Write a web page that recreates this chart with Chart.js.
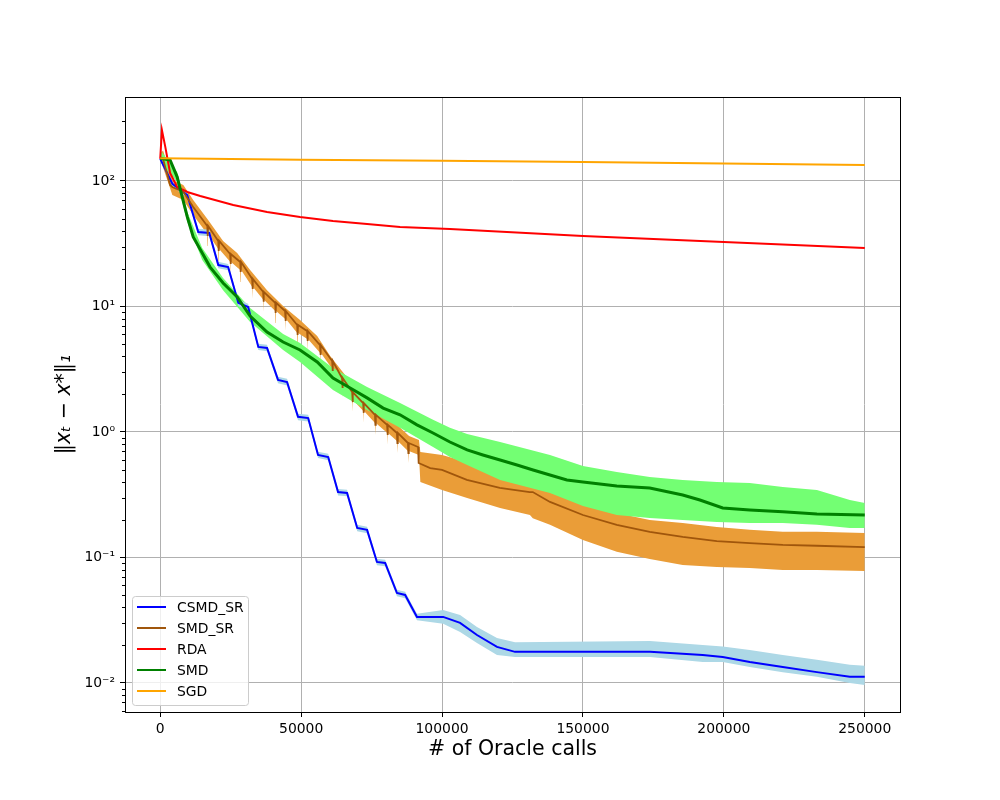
<!DOCTYPE html>
<html>
<head>
<meta charset="utf-8">
<script src="https://cdn.jsdelivr.net/npm/chart.js@4.4.1/dist/chart.umd.min.js"></script>
<style>
  body { margin: 0; background: #fff; }
  #wrap { width: 1000px; height: 800px; }
</style>
</head>
<body>
<div id="wrap"><canvas id="oracle-chart" width="1000" height="800"></canvas></div>
<script>
// Series names and colours (legend order)
var seriesNames = ['CSMD_SR', 'SMD_SR', 'RDA', 'SMD', 'SGD'];
var seriesColors = ['#0000ff', '#a0560c', '#ff0000', '#008000', '#ffa500'];

// Axis ticks
var xTickValues = [0, 50000, 100000, 150000, 200000, 250000];
var xTickLabels = ['0', '50000', '100000', '150000', '200000', '250000'];
var yTickValues = [0.01, 0.1, 1, 10, 100];
var yTickLabels = ['10\u207b\u00b2', '10\u207b\u00b9', '10\u2070', '10\u00b9', '10\u00b2'];

// CSMD_SR: line and light blue band
var csmdX = [0, 4300, 9600, 13500, 17400, 20600, 24100, 27700, 31200, 34800, 37900, 41800, 45000, 48900, 52500, 56000, 59600, 63100, 66300, 69900, 73400, 76900, 79800, 84000, 86900, 91100, 100400, 106400, 112400, 119500, 125900, 173800, 192500, 199600, 209200, 220900, 233000, 244700, 250000];
var csmdY = [150, 95, 77.3, 39.2, 38.5, 21.4, 20.6, 10.7, 9.9, 4.76, 4.67, 2.60, 2.50, 1.32, 1.29, 0.656, 0.632, 0.332, 0.327, 0.172, 0.166, 0.0921, 0.0904, 0.0521, 0.0503, 0.0336, 0.0336, 0.0301, 0.0241, 0.0194, 0.0177, 0.0177, 0.0167, 0.0161, 0.0147, 0.0134, 0.0122, 0.0112, 0.0112];
var csmdLo = [145, 91, 73, 37, 36.3, 20.2, 19.4, 10.1, 9.3, 4.5, 4.4, 2.45, 2.35, 1.24, 1.21, 0.62, 0.595, 0.312, 0.307, 0.162, 0.156, 0.0866, 0.085, 0.049, 0.0473, 0.0316, 0.0297, 0.0255, 0.0208, 0.0167, 0.0161, 0.0161, 0.0147, 0.0147, 0.0134, 0.0122, 0.0112, 0.0100, 0.00964];
var csmdHi = [155, 99, 82, 41.5, 41, 22.7, 21.8, 11.3, 10.5, 5.05, 4.95, 2.75, 2.65, 1.4, 1.37, 0.695, 0.67, 0.352, 0.347, 0.182, 0.176, 0.0976, 0.096, 0.0552, 0.0533, 0.0356, 0.0382, 0.0348, 0.0279, 0.0228, 0.0211, 0.0216, 0.0201, 0.0195, 0.0183, 0.0167, 0.0153, 0.0140, 0.0137];

// SMD_SR: saw-toothed line
var smdsrX = [0, 1000, 3500, 4300, 8200, 11700,
  16700, 16850, 17000, 20600, 20750, 20900, 24800, 24950, 25100, 28400, 28550, 28700,
  32600, 32750, 32900, 36500, 36650, 36800, 40800, 40950, 41100, 44300, 44450, 44600,
  48600, 48750, 48900, 52100, 52250, 52400, 56700, 56850, 57000, 61000, 61150, 61300,
  64500, 64650, 64800, 68100, 68250, 68400, 72000, 72150, 72300, 76200, 76350, 76500,
  80500, 80650, 80800, 84000, 84150, 84300, 87900, 88050, 88200,
  91500, 91700, 95800, 100000, 108800, 120500, 131100, 132200, 138300, 150000, 162000, 173700, 185400, 197500, 209200, 220900, 233000, 250000];
var smdsrY = [152, 150, 93, 89.6, 81.7, 62.1,
  43.8, 36.5, 43.8, 33.3, 27.7, 33.3, 26.2, 21.8, 26.2, 22.6, 18.8, 22.6,
  16.6, 13.8, 16.6, 13.1, 10.9, 13.1, 10.7, 8.87, 10.7, 9.21, 7.66, 9.21,
  7.12, 5.93, 7.12, 6.38, 5.31, 6.38, 4.93, 4.11, 4.93, 3.68, 3.06, 3.68,
  2.69, 2.24, 2.69, 2.08, 1.73, 2.08, 1.70, 1.42, 1.70, 1.37, 1.14, 1.37,
  1.14, 0.947, 1.14, 0.982, 0.817, 0.982, 0.817, 0.680, 0.817,
  0.759, 0.566, 0.516, 0.498, 0.415, 0.358, 0.332, 0.332, 0.277, 0.218, 0.182, 0.160, 0.146, 0.135, 0.130, 0.126, 0.124, 0.121];

// SMD_SR band: upper edge
var smdsrHiX = [0, 1000, 4300, 8200, 11700, 17000, 22300, 27300, 31900, 37900, 43600, 49600, 55700, 60300, 64200, 68400, 72300, 76600, 80800, 84400, 88300, 91800, 92300, 100000, 108900, 120600, 131200, 138300, 150000, 162000, 173700, 185400, 197500, 209200, 220900, 233000, 250000];
var smdsrHiY = [165, 175, 101.9, 92.9, 70.6, 48.9, 33.3, 26.7, 19.5, 13.5, 10.1, 7.80, 5.82, 4.03, 3.12, 2.37, 1.94, 1.55, 1.29, 1.12, 0.929, 0.863, 0.693, 0.656, 0.577, 0.480, 0.438, 0.345, 0.287, 0.226, 0.199, 0.188, 0.175, 0.166, 0.160, 0.160, 0.157];

// SMD_SR band: lower edge with its spikes
var smdsrLoX = [0, 4300, 8200, 11700,
  16700, 16850, 17000, 20600, 20750, 20900, 24800, 24950, 25100, 28400, 28550, 28700,
  32600, 32750, 32900, 36500, 36650, 36800, 40800, 40950, 41100, 44300, 44450, 44600,
  48600, 48750, 48900, 52100, 52250, 52400, 56700, 56850, 57000, 61000, 61150, 61300,
  64500, 64650, 64800, 68100, 68250, 68400, 72000, 72150, 72300, 76200, 76350, 76500,
  80500, 80650, 80800, 84000, 84150, 84300, 87900, 88050, 88200,
  91800, 92300, 100000, 108900, 120600, 131200, 132200, 138300, 150000, 162000, 173700, 185400, 197500, 209200, 220900, 233000, 250000];
var smdsrLoY = [150, 77.3, 70.6, 53.6,
  37.8, 30.3, 37.8, 28.7, 23.0, 28.7, 22.6, 18.2, 22.6, 19.5, 15.7, 19.5,
  14.3, 11.5, 14.3, 11.3, 9.04, 11.3, 9.21, 7.39, 9.21, 7.95, 6.38, 7.95,
  6.15, 4.93, 6.15, 5.51, 4.42, 5.51, 4.26, 3.42, 4.26, 3.18, 2.55, 3.18,
  2.33, 1.87, 2.33, 1.80, 1.44, 1.80, 1.47, 1.18, 1.47, 1.18, 0.947, 1.18,
  0.982, 0.788, 0.982, 0.848, 0.680, 0.848, 0.706, 0.566, 0.706,
  0.656, 0.400, 0.345, 0.298, 0.248, 0.218, 0.205, 0.182, 0.138, 0.111, 0.0973, 0.0871, 0.0840, 0.0824, 0.0795, 0.0795, 0.0780];

// RDA
var rdaX = [0, 600, 1800, 3500, 6000, 9600, 14200, 25900, 37900, 49600, 61300, 73400, 85100, 102800, 150000, 200000, 250000];
var rdaY = [150, 255, 187, 116, 89.6, 81.7, 75.9, 64.4, 56.6, 51.7, 48.0, 45.4, 43.0, 41.5, 36.5, 32.7, 29.2];

// SMD: line and light green band
var smdX = [0, 3500, 6000, 7800, 9600, 11700, 14900, 17700, 22300, 27300, 31900, 37900, 43600, 49600, 55700, 61300, 67400, 73400, 79100, 85100, 91100, 96800, 102800, 108900, 114500, 120600, 126600, 132300, 138300, 144300, 150000, 162000, 173700, 185400, 191500, 199600, 209200, 220900, 233000, 250000];
var smdY = [152, 147, 108, 74.6, 51.7, 35.8, 26.7, 20.6, 15.4, 11.9, 8.40, 6.26, 5.21, 4.50, 3.61, 2.69, 2.24, 1.87, 1.55, 1.37, 1.14, 0.982, 0.832, 0.719, 0.656, 0.598, 0.546, 0.498, 0.454, 0.415, 0.400, 0.371, 0.358, 0.315, 0.287, 0.248, 0.239, 0.231, 0.222, 0.218];
var smdBandX = [0, 6000, 9600, 14900, 22300, 31900, 43600, 49600, 61300, 73400, 85100, 96800, 102800, 108900, 120600, 138300, 150000, 162000, 173700, 185400, 197500, 209200, 220900, 233000, 244700, 250000];
var smdHi = [177, 118, 56.6, 29.2, 16.9, 9.73, 6.04, 5.12, 3.24, 2.28, 1.70, 1.25, 1.08, 0.964, 0.832, 0.656, 0.536, 0.480, 0.438, 0.415, 0.400, 0.393, 0.365, 0.345, 0.287, 0.272];
var smdLo = [142, 98.2, 47.1, 23.5, 13.5, 7.52, 4.50, 3.61, 2.16, 1.50, 1.08, 0.759, 0.632, 0.546, 0.415, 0.327, 0.257, 0.218, 0.206, 0.199, 0.192, 0.188, 0.188, 0.182, 0.172, 0.172];

// SGD
var sgdX = [0, 50000, 100000, 150000, 200000, 250000];
var sgdY = [152, 148, 145, 142, 138, 134];

// Turn two arrays into {x, y} points
function toPoints(xs, ys) {
    return xs.map(function(x, i) { return { x: x, y: ys[i] }; });
}

function band(xs, ys, order) {
    return { data: toPoints(xs, ys), borderWidth: 0, pointRadius: 0, fill: false, order: order };
}

function bandTop(xs, ys, target, color, order) {
    return { data: toPoints(xs, ys), borderWidth: 0, pointRadius: 0, backgroundColor: color, fill: target, order: order };
}

function line(i, xs, ys, width, order) {
    return {
        label: seriesNames[i],
        data: toPoints(xs, ys),
        borderColor: seriesColors[i],
        borderWidth: width,
        pointRadius: 0,
        fill: false,
        order: order
    };
}

// Frame, minor y ticks and the legend box inside the axes
var decorPlugin = {
    id: 'decor',
    afterDraw: function(chart) {
        var ctx = chart.ctx;
        var area = chart.chartArea;
        var yScale = chart.scales.y;

        ctx.save();
        ctx.strokeStyle = '#000';
        ctx.lineWidth = 1;
        yScale.ticks.forEach(function(t) {
            if (t.major) return;
            var py = Math.round(yScale.getPixelForValue(t.value)) + 0.5;
            ctx.beginPath();
            ctx.moveTo(area.left, py);
            ctx.lineTo(area.left - 3, py);
            ctx.stroke();
        });
        ctx.strokeRect(area.left + 0.5, area.top + 0.5, area.right - area.left, area.bottom - area.top);

        // legend
        var bx = 132, by = 596, bw = 116, bh = 109;
        ctx.beginPath();
        ctx.roundRect(bx + 0.5, by + 0.5, bw, bh, 3);
        ctx.fillStyle = 'rgba(255,255,255,0.8)';
        ctx.fill();
        ctx.strokeStyle = '#cccccc';
        ctx.stroke();

        ctx.font = '13.9px "DejaVu Sans"';
        ctx.textBaseline = 'middle';
        ctx.textAlign = 'left';
        for (var i = 0; i < seriesNames.length; i++) {
            var ry = 607 + i * 21;
            ctx.strokeStyle = seriesColors[i];
            ctx.lineWidth = 2;
            ctx.beginPath();
            ctx.moveTo(137, ry);
            ctx.lineTo(166, ry);
            ctx.stroke();
            ctx.fillStyle = '#000';
            ctx.fillText(seriesNames[i], 177, ry + 1);
        }
        ctx.restore();
    }
};

Chart.defaults.font.family = '"DejaVu Sans", sans-serif';
Chart.defaults.font.size = 13.9;
Chart.defaults.color = '#000';

var ctxMain = document.getElementById('oracle-chart').getContext('2d');
var myChart = new Chart(ctxMain, {
    type: 'line',
    data: {
        datasets: [
            band(csmdX, csmdLo, 10),                             // 0
            bandTop(csmdX, csmdHi, 0, '#add8e6', 10),            // 1
            band(smdsrLoX, smdsrLoY, 30),                        // 2
            bandTop(smdsrHiX, smdsrHiY, 2, 'rgb(234,157,56)', 30), // 3
            band(smdBandX, smdLo, 20),                           // 4
            bandTop(smdBandX, smdHi, 4, 'rgb(115,255,115)', 20), // 5
            line(0, csmdX, csmdY, 2, 5),
            line(1, smdsrX, smdsrY, 1.8, 4),
            line(2, rdaX, rdaY, 2, 3),
            line(3, smdX, smdY, 3, 2),
            line(4, sgdX, sgdY, 2, 1)
        ]
    },
    options: {
        responsive: false,
        animation: false,
        layout: { padding: { top: 97, right: 100, left: 0, bottom: 0 } },
        plugins: {
            legend: { display: false },
            tooltip: { enabled: false }
        },
        scales: {
            x: {
                type: 'linear',
                min: -12500,
                max: 262500,
                afterBuildTicks: function(scale) {
                    scale.ticks = xTickValues.map(function(v) { return { value: v }; });
                },
                afterFit: function(scale) { scale.height = 88; },
                ticks: {
                    autoSkip: false,
                    maxRotation: 0,
                    padding: 4,
                    callback: function(value) { return xTickLabels[xTickValues.indexOf(value)]; }
                },
                grid: { color: '#b0b0b0', lineWidth: 1, tickColor: '#000', tickLength: 5 },
                border: { display: false },
                title: {
                    display: true,
                    text: '# of Oracle calls',
                    font: { size: 20.5 },
                    padding: { top: 0, bottom: 38 }
                }
            },
            y: {
                type: 'logarithmic',
                min: 0.00587,
                max: 467,
                afterBuildTicks: function(scale) {
                    var t = [];
                    for (var e = -3; e <= 2; e++) {
                        for (var m = 1; m <= 9; m++) {
                            var v = m * Math.pow(10, e);
                            if (v >= scale.min && v <= scale.max) t.push({ value: v, major: m === 1 });
                        }
                    }
                    scale.ticks = t;
                },
                afterFit: function(scale) { scale.width = 125; },
                ticks: {
                    autoSkip: false,
                    padding: 5,
                    callback: function(value) {
                        var k = yTickValues.indexOf(Math.pow(10, Math.round(Math.log10(value))));
                        if (Math.abs(value - yTickValues[k]) > 1e-12) return '';
                        return yTickLabels[k];
                    }
                },
                grid: {
                    lineWidth: 1,
                    tickLength: 5,
                    color: function(c) { return c.tick && c.tick.major ? '#b0b0b0' : 'rgba(0,0,0,0)'; },
                    tickColor: function(c) { return c.tick && c.tick.major ? '#000' : 'rgba(0,0,0,0)'; }
                },
                border: { display: false },
                title: {
                    display: true,
                    text: '\u2016x\u209c \u2212 x*\u2016\u2081',
                    font: { size: 20.5, style: 'italic' },
                    padding: { top: 52, bottom: 0 }
                }
            }
        }
    },
    plugins: [decorPlugin]
});
</script>
</body>
</html>
